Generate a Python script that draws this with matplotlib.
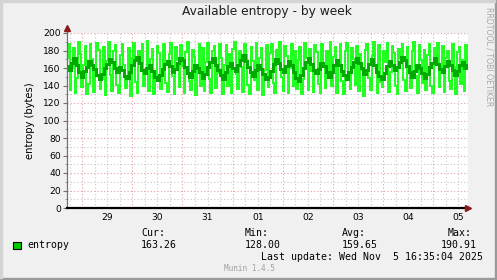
import matplotlib
matplotlib.use("Agg")
import matplotlib.pyplot as plt
from matplotlib.patches import Rectangle
import numpy as np

W, H = 497, 280

# time span in days, 0 = midnight of 29 Oct
T_START = -0.3
T_END = 7.69

day_labels = ["29", "30", "31", "01", "02", "03", "04", "05"]

# consolidated samples (bright trace)
entropy_raw = [
    172, 188, 135, 160, 183, 131, 149, 190, 176, 138, 164, 185, 130, 142, 187, 170, 133, 158, 189, 181,
    136, 147, 184, 129, 168, 190, 152, 134, 179, 186, 141, 131, 175, 188, 163, 137, 150, 183, 128, 172,
    189, 144, 132, 180, 166, 187, 139, 155, 191, 134, 170, 182, 130, 146, 185, 177, 136, 159, 188, 143,
    133, 176, 189, 151, 130, 184, 169, 138, 186, 162, 131, 178, 190, 145, 135, 181, 173, 129, 157, 187,
    140, 183, 134, 167, 189, 148, 132, 180, 185, 137, 154, 188, 171, 130, 164, 186, 139, 176, 131, 182,
    190, 153, 136, 179, 161, 133, 187, 175, 141, 130, 184, 168, 146, 189, 135, 172, 183, 129, 158, 186,
    138, 177, 188, 143, 132, 181, 166, 190, 150, 134, 185, 174, 131, 160, 187, 140, 179, 136, 169, 184,
    130, 147, 189, 171, 135, 182, 157, 133, 186, 178, 142, 131, 188, 165, 137, 180, 152, 190, 139, 173,
    184, 132, 162, 187, 145, 130, 179, 189, 154, 136, 183, 170, 141, 185, 134, 176, 158, 128, 181, 188,
    149, 135, 174, 190, 163, 131, 186, 144, 138, 180, 167, 189, 133, 156, 185, 177, 139, 130, 182, 171,
    188, 146, 134, 184, 160, 137, 179, 190, 151, 132, 186, 169, 143, 181, 135, 175, 187, 140, 131, 183,
    166, 189, 138, 155, 185, 133, 172, 180, 145, 136, 187, 161, 130, 178, 184, 142, 169, 134, 186, 164,
]

# averaged trace (dark line)
entropy_avg = [
    162, 158, 166, 171, 163, 155, 150, 157, 161, 168, 164, 159, 152, 147, 153, 160, 165, 170, 167, 160,
    156, 161, 158, 151, 149, 155, 163, 169, 173, 166, 158, 154, 160, 164, 157, 150, 146, 152, 159, 165,
    168, 162, 156, 159, 166, 172, 169, 161, 154, 150, 157, 163, 160, 155, 149, 153, 161, 167, 171, 164,
    158, 152, 148, 155, 162, 166, 160, 157, 163, 169, 175, 168, 161, 156, 151, 158, 164, 159, 153, 147,
    150, 157, 165, 170, 166, 159, 155, 162, 168, 163, 156, 149, 145, 152, 160, 167, 172, 165, 158, 154,
    159, 166, 162, 155, 150, 156, 163, 169, 164, 157, 152, 148, 155, 161, 167, 171, 166, 160, 153, 158,
    165, 170, 163, 156, 151, 147, 154, 162, 168, 164, 158, 161, 167, 173, 169, 162, 155, 150, 157, 163,
    160, 154, 149, 153, 161, 166, 171, 165, 159, 156, 162, 168, 164, 158, 152, 157, 163, 167, 160, 164,
]

stat_names = ["Cur:", "Min:", "Avg:", "Max:"]
stat_values = [163.26, 128.00, 159.65, 190.91]
last_update = "Last update: Wed Nov  5 16:35:04 2025"

BG = "#f0f0f0"
LIGHT = "#22ff22"
DARK = "#00aa00"
RED_GRID = "#e8a0a0"
GREY_GRID = "#c8c8c8"
ARROW = "#8b1a1a"
MONO = "DejaVu Sans Mono"


def fx(x):
  return x / W


def fy(y):
  return 1 - y / H


## figure and plot area
fig = plt.figure(figsize=(W / 100, H / 100), dpi=100)
fig.patch.set_facecolor(BG)
ax = fig.add_axes([fx(67), fy(208), 401 / W, 175 / H])
ax.set_facecolor("white")
ax.set_xlim(T_START, T_END)
ax.set_ylim(0, 200)

## grid
ax.set_yticks(range(0, 201, 20))
ax.set_yticks(range(10, 200, 20), minor=True)
ax.yaxis.grid(True, which="major", color=RED_GRID, linestyle=(0, (1, 2)), linewidth=0.8)
ax.yaxis.grid(True, which="minor", color=GREY_GRID, linestyle=(0, (1, 2)), linewidth=0.8)

noons = np.arange(len(day_labels)) + 0.5
ax.set_xticks(noons)
ax.set_xticklabels(day_labels)
ax.set_xticks([d / 4 for d in range(-1, 31) if d % 4 != 0], minor=True)
ax.xaxis.remove_overlapping_locs = False
ax.xaxis.grid(True, which="minor", color=GREY_GRID, linestyle=(0, (1, 2)), linewidth=0.8)
ax.vlines(range(0, 8), 0, 200, colors=RED_GRID, linestyles=(0, (1, 2)), linewidth=0.8, zorder=0.6)
ax.set_axisbelow(True)

## data
t_raw = np.linspace(T_START, T_END, len(entropy_raw))
t_avg = np.linspace(T_START, T_END, len(entropy_avg))
ax.plot(t_raw, entropy_raw, color=LIGHT, linewidth=1.2, drawstyle="steps-mid",
        antialiased=False, zorder=3)
ax.plot(t_avg, entropy_avg, color=DARK, linewidth=2.0, drawstyle="steps-mid",
        antialiased=False, zorder=4)

## axes lines, ticks, arrows
for s in ["top", "right", "left"]:
  ax.spines[s].set_visible(False)
ax.spines["bottom"].set_color("black")
ax.spines["bottom"].set_linewidth(1.6)
ax.spines["bottom"].set_zorder(5)
ax.plot([0, 0], [0, 1.03], transform=ax.transAxes, color="#707070", lw=0.9,
        clip_on=False, zorder=5)
ax.plot([1.0], [0], marker=">", transform=ax.transAxes, color=ARROW, ms=4,
        clip_on=False, zorder=6)
ax.plot([0], [1.03], marker="^", transform=ax.transAxes, color=ARROW, ms=4,
        clip_on=False, zorder=6)
ax.tick_params(axis="y", which="major", length=3, width=0.8, color="#707070",
               labelsize=6.6, pad=1.5, labelcolor="black")
ax.tick_params(axis="y", which="minor", length=1.5, width=0.6, color="#909090")
ax.tick_params(axis="x", which="major", length=0, labelsize=6.6, pad=3.5)
ax.tick_params(axis="x", which="minor", length=0)
ax.set_ylabel("entropy (bytes)", fontsize=7.2, labelpad=6)

## titles and side text
fig.text(fx(267), fy(12), "Available entropy - by week", ha="center", va="center",
         fontsize=8.8, color="#202020")
fig.text(fx(489), fy(57), "RRDTOOL / TOBI OETIKER", ha="center", va="center",
         rotation=270, fontsize=5.6, color="#a8a8a8")

## legend block
fig.patches.append(Rectangle((fx(13), fy(249)), 8 / W, 7 / H, transform=fig.transFigure,
                             facecolor="#00cc00", edgecolor="black", linewidth=0.8))
fig.text(fx(27), fy(245.5), "entropy", fontsize=7.1, family=MONO, va="center")
stat_x = [141, 245, 342, 441]
for x, name, val in zip(stat_x, stat_names, stat_values):
  off = 7 if name == "Max:" else 0
  fig.text(fx(x + off), fy(233), name, fontsize=7.1, family=MONO, va="center")
  fig.text(fx(x), fy(245.5), f"{val:.2f}", fontsize=7.1, family=MONO, va="center")
fig.text(fx(483), fy(257.5), last_update, fontsize=7.1, family=MONO, va="center", ha="right")
fig.text(fx(249), fy(268.5), "Munin 1.4.5", fontsize=5.6, family=MONO, va="center",
         ha="center", color="#a0a0a0")

## 3d-ish frame around the image
fig.patches.append(Rectangle((0, 0), 1, 2 / H, transform=fig.transFigure, color="#9a9a9a"))
fig.patches.append(Rectangle((1 - 2 / W, 0), 2 / W, 1, transform=fig.transFigure, color="#9a9a9a"))
fig.patches.append(Rectangle((0, 1 - 2 / H), 1 - 2 / W, 2 / H, transform=fig.transFigure, color="#d4d4d4"))
fig.patches.append(Rectangle((0, 2 / H), 2 / W, 1 - 4 / H, transform=fig.transFigure, color="#d4d4d4"))

fig.savefig("out.png", dpi=100, facecolor=BG)
